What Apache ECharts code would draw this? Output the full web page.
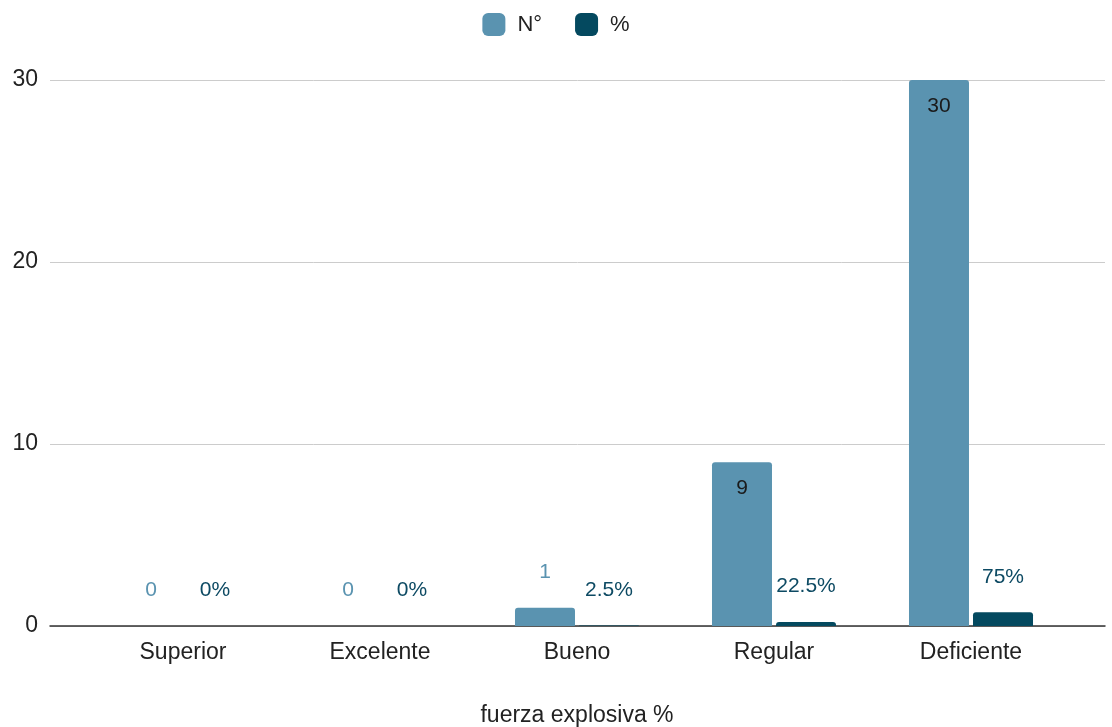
<!DOCTYPE html>
<html><head><meta charset="utf-8">
<script src="https://cdn.jsdelivr.net/npm/echarts@6/dist/echarts.min.js"></script>
<style>html,body{margin:0;padding:0;background:#fff}#c{width:1112px;height:727px}</style>
</head><body><div id="c"></div>
<script>
const categories = ['Superior', 'Excelente', 'Bueno', 'Regular', 'Deficiente'];
const countValues = [0, 0, 1, 9, 30];
const pctValues = [0, 0, 0.025, 0.225, 0.75];
const yTicks = [0, 10, 20, 30];
const seriesNames = ['N°', '%'];
const axisTitle = 'fuerza explosiva %';

const C1 = '#5a93b0', C2 = '#04495f';
const afont = '"Liberation Sans", Arial, sans-serif';

const countData = countValues.map(v => v >= 5 ? {
  value: v, label: {position: 'insideTop', distance: 16, color: '#1a1a1a'}
} : {value: v, label: {position: 'top', distance: 25, color: C1}});

const chart = echarts.init(document.getElementById('c'));
chart.setOption({
  animation: false,
  textStyle: {fontFamily: afont},
  legend: {
    top: 8, left: 'center', itemWidth: 23, itemHeight: 23, itemGap: 33,
    icon: 'roundRect',
    textStyle: {fontSize: 22, color: '#222', fontFamily: afont, padding: [0, 0, 0, 7]},
    data: seriesNames
  },
  grid: [
    {left: 50, right: 7, top: 80, bottom: 101, outerBoundsMode: 'none', containLabel: false},
    {left: 84.5, right: 42.5, top: 80, bottom: 101, outerBoundsMode: 'none', containLabel: false}
  ],
  xAxis: [
    {gridIndex: 0, type: 'category', data: [''], axisLine: {lineStyle: {color: '#333', width: 1.5}},
     axisTick: {show: false}, axisLabel: {show: false}},
    {gridIndex: 1, type: 'category', data: categories,
     axisLine: {show: false}, axisTick: {show: false},
     axisLabel: {fontSize: 23, color: '#222', margin: 15, fontFamily: afont},
     name: axisTitle, nameLocation: 'middle', nameGap: 78,
     nameTextStyle: {fontSize: 23, color: '#222', fontFamily: afont}}
  ],
  yAxis: [
    {gridIndex: 0, type: 'value', min: 0, max: 30, interval: 10,
     axisLine: {show: false}, axisTick: {show: false},
     axisLabel: {fontSize: 23, color: '#222', margin: 12, fontFamily: afont,
       padding: [4, 0, 0, 0], customValues: yTicks},
     splitLine: {lineStyle: {color: '#cccccc', width: 1}}},
    {gridIndex: 1, type: 'value', min: 0, max: 30, interval: 10, show: false,
     splitLine: {show: false}}
  ],
  series: [
    {name: seriesNames[0], type: 'bar', xAxisIndex: 1, yAxisIndex: 1,
     data: countData, barWidth: 60, barGap: '6.7%',
     itemStyle: {color: C1, borderRadius: [3, 3, 0, 0]},
     label: {show: true, fontSize: 21, fontFamily: afont}},
    {name: seriesNames[1], type: 'bar', xAxisIndex: 1, yAxisIndex: 1,
     data: pctValues, barWidth: 60,
     itemStyle: {color: C2, borderRadius: [3, 3, 0, 0]},
     label: {show: true, position: 'top', distance: 25, fontSize: 21, color: '#0d4a63', fontFamily: afont,
       formatter: p => (Math.round(p.value * 1000) / 10) + '%'}}
  ]
});
</script></body></html>
